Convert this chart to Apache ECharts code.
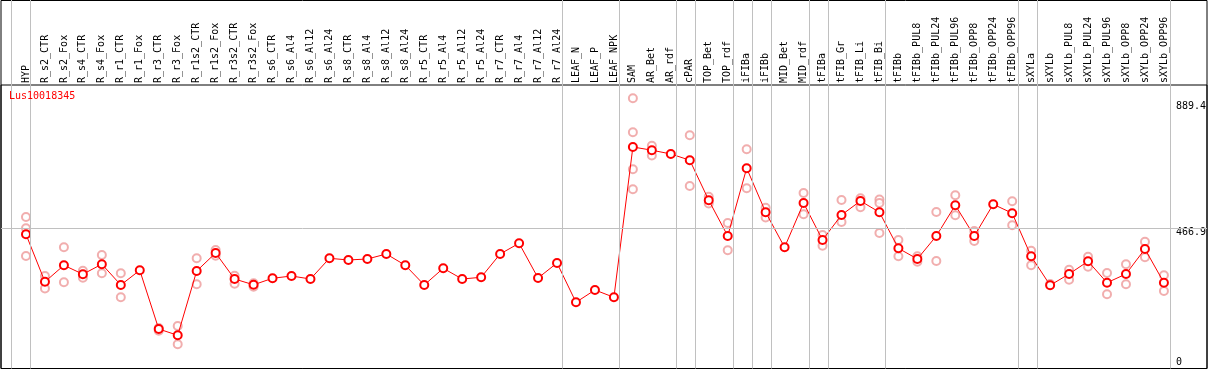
<!DOCTYPE html>
<html><head><meta charset="utf-8">
<script src="https://cdn.jsdelivr.net/npm/echarts@6/dist/echarts.min.js"></script>
<style>html,body{margin:0;padding:0;background:#fff}#c{width:1209px;height:370px}</style>
</head><body><div id="c"></div>
<script>
const seriesName = 'Lus10018345';
const categories = ['HYP','R_s2_CTR','R_s2_Fox','R_s4_CTR','R_s4_Fox','R_r1_CTR','R_r1_Fox','R_r3_CTR','R_r3_Fox','R_r1s2_CTR','R_r1s2_Fox','R_r3s2_CTR','R_r3s2_Fox','R_s6_CTR','R_s6_Al4','R_s6_Al12','R_s6_Al24','R_s8_CTR','R_s8_Al4','R_s8_Al12','R_s8_Al24','R_r5_CTR','R_r5_Al4','R_r5_Al12','R_r5_Al24','R_r7_CTR','R_r7_Al4','R_r7_Al12','R_r7_Al24','LEAF_N','LEAF_P','LEAF_NPK','SAM','AR_Bet','AR_rdf','cPAR','TOP_Bet','TOP_rdf','iFIBa','iFIBb','MID_Bet','MID_rdf','tFIBa','tFIB_Gr','tFIB_Li','tFIB_Bi','tFIBb','tFIBb_PUL8','tFIBb_PUL24','tFIBb_PUL96','tFIBb_OPP8','tFIBb_OPP24','tFIBb_OPP96','sXYLa','sXYLb','sXYLb_PUL8','sXYLb_PUL24','sXYLb_PUL96','sXYLb_OPP8','sXYLb_OPP24','sXYLb_OPP96'];
const meanValues = [447.9,289.4,344.5,314.8,348.1,278.7,327.8,131.8,110.8,325.4,385.5,298.7,279.4,301.1,308.7,298.7,367.8,362.2,365.5,382.2,344.5,278.7,334.4,298.7,304.4,382.2,417.9,302.1,352.1,221,262,237.6,739.3,728.6,716,695.3,561.7,442.3,668.6,521.7,404.5,552.4,428.9,512.4,559.1,521.7,401.2,365.5,442.3,545.1,442.3,548.1,518.4,374.5,277.7,315.4,357.8,286.4,315.4,398.9,286.4];
const repA = [505.7,308.7,404.5,326.4,378.8,317.8,null,135,141.9,367.8,395.5,309.4,284.4,null,null,null,null,null,null,null,null,null,null,null,null,null,null,null,null,null,null,null,901.9,743.7,null,778.4,573.4,485.6,732,536.7,null,585.8,445.6,562.4,568.1,564.1,428.9,374.5,522.4,578.4,458.9,null,558.1,393.2,282,329.8,373.2,318.8,347.8,423.2,311.1];
const repB = [375.5,267,288,302.7,317.8,237.6,null,126.2,80.8,281,376.5,283,273,null,null,null,null,null,null,null,null,null,null,null,null,null,null,null,null,null,null,null,598.5,711,null,609.1,550.7,394.5,601.5,504,null,514.7,409.9,489,538,452.3,374.5,356.5,358.8,511.3,425.6,null,478,344.5,null,296.4,339.8,247.7,281,371.2,258.7];
const repC = [468.3,null,null,null,null,null,null,null,null,null,null,null,null,null,null,null,null,null,null,null,null,null,null,null,null,null,null,null,null,null,null,null,788.4,null,null,null,null,null,null,null,null,null,null,null,null,552.4,null,null,null,null,null,null,null,null,null,null,null,null,null,null,null];
const repD = [null,null,null,null,null,null,null,null,null,null,null,null,null,null,null,null,null,null,null,null,null,null,null,null,null,null,null,null,null,null,null,null,664.9,null,null,null,null,null,null,null,null,null,null,null,null,null,null,null,null,null,null,null,null,null,null,null,null,null,null,null,null];
const groupEnds = [-1,0,28,31,34,35,37,38,39,41,42,45,52,53,60];
const yTickLabels = [0, 466.9, 889.4];
const refLine = 466.9;

const MONO = 'DejaVu Sans Mono';
const yMax = 946.2;
// full-width grid (x 1..1207) expressed in category units: centre i at 26 + 19*i px
const sepMin = -25 / 19, sepMax = 1181 / 19;
const repData = [repA, repB, repC, repD].flatMap(arr => arr.map((v, i) => v == null ? null : [i, v]).filter(Boolean));
const chart = echarts.init(document.getElementById('c'), null, {renderer: 'canvas'});
chart.setOption({
  animation: false,
  title: {text: seriesName, left: 9, top: 91, padding: 0, textStyle: {fontSize: 10, fontFamily: MONO, color: '#ff0000', fontWeight: 'normal'}},
  grid: [
    {left: 16.5, right: 33.5, top: 85, bottom: 1.5},
    {left: 1, right: 2, top: 85, bottom: 1.5, show: true, borderColor: '#000', borderWidth: 1, backgroundColor: 'transparent'},
    {left: 1, right: 2, top: 0, bottom: 1.5},
    {left: 1, right: 2, top: 0.5, bottom: 1.5, show: true, borderColor: '#000', borderWidth: 1, backgroundColor: 'transparent'}
  ],
  xAxis: [
    {gridIndex: 0, type: 'category', data: categories, position: 'top', boundaryGap: true,
     axisLine: {show: false}, axisTick: {show: false}, splitLine: {show: false},
     axisLabel: {interval: 0, rotate: 90, margin: 2, fontSize: 10, fontFamily: MONO, color: '#000'}},
    {gridIndex: 1, type: 'value', show: false, min: 0, max: 1},
    {gridIndex: 2, type: 'value', show: false, min: sepMin, max: sepMax},
    {gridIndex: 3, type: 'value', show: false, min: 0, max: 1}
  ],
  yAxis: [
    {gridIndex: 0, type: 'value', min: 0, max: yMax, position: 'right',
     axisLine: {show: false}, axisTick: {show: false}, splitLine: {show: false},
     axisLabel: {customValues: yTickLabels, margin: 2.5, color: '#000', fontSize: 10, fontFamily: MONO,
       formatter: v => v === 0 ? '{lo|0}' : '{hi|' + v + '}',
       rich: {lo: {padding: [0, 0, 12, 0], fontSize: 10, fontFamily: MONO, color: '#000'},
              hi: {padding: [8, 0, 0, 0], fontSize: 10, fontFamily: MONO, color: '#000'}}}},
    {gridIndex: 1, type: 'value', show: false, min: 0, max: yMax},
    {gridIndex: 2, type: 'value', show: false, min: 0, max: 1},
    {gridIndex: 3, type: 'value', show: false, min: 0, max: 1}
  ],
  series: [
    {type: 'line', xAxisIndex: 2, yAxisIndex: 2, data: [], silent: true,
     markLine: {silent: true, symbol: ['none', 'none'], label: {show: false},
       lineStyle: {color: '#c0c0c0', width: 1, type: 'solid'},
       data: groupEnds.map(i => ({xAxis: i + 0.226}))}},
    {type: 'line', xAxisIndex: 1, yAxisIndex: 1, data: [], silent: true,
     markLine: {silent: true, symbol: ['none', 'none'], label: {show: false},
       lineStyle: {color: '#c0c0c0', width: 1, type: 'solid'},
       data: [{yAxis: refLine}]}},
    {type: 'scatter', xAxisIndex: 0, yAxisIndex: 0, data: repData, symbol: 'emptyCircle', symbolSize: 8,
     itemStyle: {color: '#ee9a9a', borderColor: '#ee9a9a', borderWidth: 1}, z: 2, silent: true},
    {type: 'line', name: seriesName, xAxisIndex: 0, yAxisIndex: 0, data: meanValues, symbol: 'emptyCircle', symbolSize: 8,
     lineStyle: {color: '#ff0000', width: 1}, itemStyle: {color: '#ff0000', borderColor: '#ff0000', borderWidth: 1.5}, z: 3, silent: true}
  ]
});
</script></body></html>
